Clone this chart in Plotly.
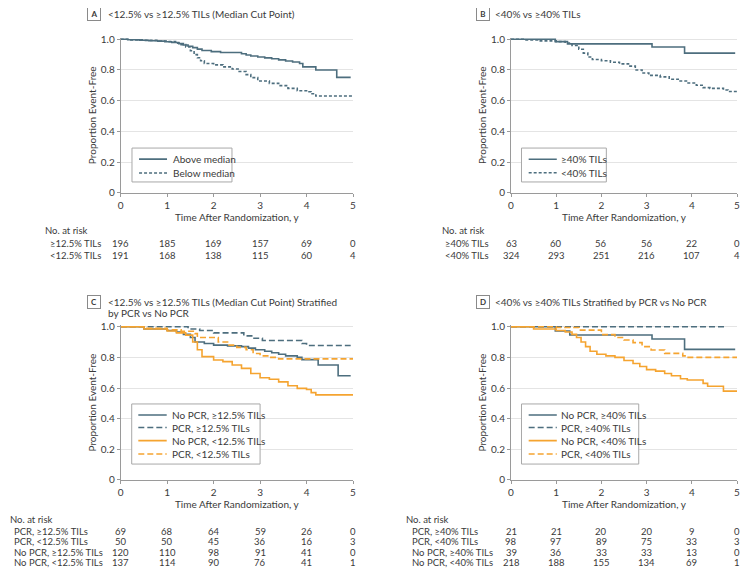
import plotly.graph_objects as go

# page body has an 8px default margin: the figure is drawn 8px in from the top-left of the window
OFF = 8
W, H = 750 - OFF, 576 - 2 * OFF

# ---------------- data ----------------
TIME_TICKS = [0, 1, 2, 3, 4, 5]
Y_TICKS = [0, 0.2, 0.4, 0.6, 0.8, 1.0]
Y_TICK_TEXT = ["0", "0.2", "0.4", "0.6", "0.8", "1.0"]
X_TITLE = "Time After Randomization, y"
Y_TITLE = "Proportion Event-Free"

# Panel A
A_LETTER = "A"
A_TITLE = "<12.5% vs ≥12.5% TILs (Median Cut Point)"
A_NAMES = ["Above median", "Below median"]
A_above_t = [0, 0.15, 0.4, 0.6, 0.8, 0.95, 1.1, 1.25, 1.35, 1.45, 1.55, 1.65, 1.75, 1.95, 2.15, 2.6, 2.7,
             2.8, 2.95, 3.1, 3.25, 3.4, 3.55, 3.7, 3.85, 3.92, 4.2, 4.65, 4.95]
A_above_s = [1.0, 0.997, 0.994, 0.991, 0.988, 0.984, 0.979, 0.972, 0.963, 0.955, 0.946, 0.936, 0.927, 0.92,
             0.914, 0.906, 0.898, 0.891, 0.885, 0.879, 0.873, 0.866, 0.859, 0.852, 0.842, 0.82, 0.80, 0.752, 0.752]
A_below_t = [0, 0.2, 0.5, 0.8, 1.0, 1.2, 1.3, 1.4, 1.5, 1.58, 1.65, 1.72, 1.8, 2.0, 2.2, 2.4, 2.55, 2.7, 2.8,
             2.95, 3.2, 3.4, 3.6, 3.8, 4.0, 4.1, 4.2, 5.0]
A_below_s = [1.0, 0.996, 0.993, 0.989, 0.985, 0.975, 0.965, 0.95, 0.925, 0.9, 0.88, 0.86, 0.842, 0.833,
             0.82, 0.806, 0.79, 0.77, 0.75, 0.728, 0.713, 0.698, 0.68, 0.665, 0.658, 0.645, 0.63, 0.63]
A_RISK_LABELS = ["≥12.5% TILs", "<12.5% TILs"]
A_RISK = [[196, 185, 169, 157, 69, 0], [191, 168, 138, 115, 60, 4]]

# Panel B
B_LETTER = "B"
B_TITLE = "<40% vs ≥40% TILs"
B_NAMES = ["≥40% TILs", "<40% TILs"]
B_hi_t = [0, 0.98, 1.25, 3.12, 3.84, 4.96]
B_hi_s = [1.0, 0.985, 0.97, 0.95, 0.91, 0.91]
B_lo_t = [0, 0.3, 0.6, 1.0, 1.2, 1.35, 1.5, 1.6, 1.7, 1.8, 2.0, 2.2, 2.4, 2.6, 2.75, 2.9, 3.05, 3.3, 3.5,
          3.7, 3.9, 4.1, 4.25, 4.4, 4.7, 4.8, 5.0]
B_lo_s = [1.0, 0.995, 0.99, 0.985, 0.975, 0.96, 0.935, 0.91, 0.885, 0.868, 0.86, 0.85, 0.84, 0.825, 0.80,
          0.78, 0.765, 0.755, 0.74, 0.728, 0.715, 0.70, 0.685, 0.68, 0.67, 0.66, 0.66]
B_RISK_LABELS = ["≥40% TILs", "<40% TILs"]
B_RISK = [[63, 60, 56, 56, 22, 0], [324, 293, 251, 216, 107, 4]]

# Panel C
C_LETTER = "C"
C_TITLE = "<12.5% vs ≥12.5% TILs (Median Cut Point) Stratified<br>by PCR vs No PCR"
C_NAMES = ["No PCR, ≥12.5% TILs", "PCR, ≥12.5% TILs", "No PCR, <12.5% TILs", "PCR, <12.5% TILs"]
C_nohi_t = [0, 0.5, 1.0, 1.2, 1.35, 1.5, 1.6, 1.8, 2.0, 2.3, 2.6, 2.75, 2.9, 3.1, 3.25, 3.4, 3.55, 3.8,
            3.9, 4.25, 4.68, 4.95]
C_nohi_s = [1.0, 0.985, 0.975, 0.965, 0.95, 0.93, 0.90, 0.89, 0.88, 0.875, 0.87, 0.86, 0.85, 0.84, 0.83,
            0.82, 0.81, 0.80, 0.785, 0.75, 0.68, 0.68]
C_pchi_t = [0, 1.45, 1.7, 2.0, 2.65, 2.85, 3.05, 3.9, 4.0, 4.95]
C_pchi_s = [1.0, 0.985, 0.975, 0.96, 0.94, 0.925, 0.91, 0.89, 0.877, 0.877]
C_nolo_t = [0, 0.5, 1.0, 1.2, 1.4, 1.55, 1.65, 1.75, 2.0, 2.2, 2.4, 2.6, 2.8, 3.0, 3.2, 3.4, 3.6, 3.8, 4.0,
            4.1, 4.2, 5.0]
C_nolo_s = [1.0, 0.985, 0.972, 0.96, 0.945, 0.90, 0.85, 0.805, 0.783, 0.772, 0.75, 0.728, 0.695, 0.667,
            0.657, 0.64, 0.615, 0.598, 0.59, 0.57, 0.555, 0.555]
C_pclo_t = [0, 0.5, 1.0, 1.3, 1.6, 1.65, 2.1, 2.3, 2.5, 2.7, 2.85, 3.0, 3.2, 3.4, 5.0]
C_pclo_s = [1.0, 0.99, 0.98, 0.97, 0.955, 0.93, 0.90, 0.88, 0.865, 0.85, 0.825, 0.81, 0.80, 0.79, 0.79]
C_RISK_LABELS = ["PCR, ≥12.5% TILs", "PCR, <12.5% TILs", "No PCR, ≥12.5% TILs", "No PCR, <12.5% TILs"]
C_RISK = [[69, 68, 64, 59, 26, 0], [50, 50, 45, 36, 16, 3], [120, 110, 98, 91, 41, 0], [137, 114, 90, 76, 41, 1]]

# Panel D
D_LETTER = "D"
D_TITLE = "<40% vs ≥40% TILs Stratified by PCR vs No PCR"
D_NAMES = ["No PCR, ≥40% TILs", "PCR, ≥40% TILs", "No PCR, <40% TILs", "PCR, <40% TILs"]
D_nohi_t = [0, 0.98, 1.3, 3.12, 3.84, 4.96]
D_nohi_s = [1.0, 0.972, 0.946, 0.92, 0.852, 0.852]
D_pchi_t = [0, 4.75]
D_pchi_s = [1.0, 1.0]
D_nolo_t = [0, 0.5, 1.0, 1.2, 1.35, 1.45, 1.55, 1.65, 1.75, 1.9, 2.1, 2.3, 2.5, 2.7, 2.85, 3.0, 3.2, 3.4,
            3.55, 3.75, 3.9, 4.25, 4.35, 4.7, 5.0]
D_nolo_s = [1.0, 0.985, 0.975, 0.965, 0.95, 0.93, 0.90, 0.87, 0.84, 0.82, 0.81, 0.80, 0.78, 0.76, 0.74,
            0.72, 0.71, 0.695, 0.68, 0.66, 0.652, 0.63, 0.612, 0.58, 0.58]
D_pclo_t = [0, 1.0, 1.5, 2.0, 2.3, 2.5, 2.7, 2.9, 3.1, 3.4, 3.8, 3.9, 5.0]
D_pclo_s = [1.0, 0.995, 0.978, 0.948, 0.93, 0.913, 0.896, 0.87, 0.848, 0.826, 0.81, 0.80, 0.80]
D_RISK_LABELS = ["PCR, ≥40% TILs", "PCR, <40% TILs", "No PCR, ≥40% TILs", "No PCR, <40% TILs"]
D_RISK = [[21, 21, 20, 20, 9, 0], [98, 97, 89, 75, 33, 3], [39, 36, 33, 33, 13, 0], [218, 188, 155, 134, 69, 1]]

# ---------------- style ----------------
TEAL = "#4d6e7e"
ORANGE = "#f5a430"
TXT = "#3a3a3a"
AXC = "#9a9a9a"
GRID = "#e4e4e4"
FONT = "Lato"
FS = 10
FS_TAB = 9.5


def px(xp):
    return (xp - OFF) / W


def py(yp):
    return 1 - (yp - OFF) / H


fig = go.Figure()

# panel geometry (pixels in the 750x576 window)
LEFT = (120.7, 353.0)
RIGHT = (511.0, 737.0)
TOP = (192.7, 39.3)     # y=0 px, y=1 px
BOT = (480.0, 326.7)
YMAX = 1.01

panels = [
    dict(ax="", xpx=LEFT, ypx=TOP),
    dict(ax="2", xpx=RIGHT, ypx=TOP),
    dict(ax="3", xpx=LEFT, ypx=BOT),
    dict(ax="4", xpx=RIGHT, ypx=BOT),
]

for p in panels:
    x0, x1 = p["xpx"]
    y0, y1 = p["ypx"]
    ytop = y0 - (y0 - y1) * YMAX
    xa = dict(domain=[px(x0), px(x1)], range=[0, 5], tickvals=TIME_TICKS, showline=True, linecolor=AXC,
              linewidth=1, ticks="outside", ticklen=3, tickcolor=AXC, showgrid=False, zeroline=False,
              tickfont=dict(size=FS, color=TXT), anchor="y" + p["ax"],
              title=dict(text=X_TITLE, font=dict(size=FS, color=TXT), standoff=1))
    ya = dict(domain=[py(y0), py(ytop)], range=[0, YMAX], tickvals=Y_TICKS, ticktext=Y_TICK_TEXT, showline=True,
              linecolor=AXC, linewidth=1, ticks="outside", ticklen=3, tickcolor=AXC, showgrid=True,
              gridcolor=GRID, gridwidth=1, zeroline=False, tickfont=dict(size=FS, color=TXT),
              anchor="x" + p["ax"],
              title=dict(text=Y_TITLE, font=dict(size=FS, color=TXT), standoff=2))
    fig.update_layout(**{"xaxis" + p["ax"]: xa, "yaxis" + p["ax"]: ya})

series = [
    ("", A_NAMES[0], A_above_t, A_above_s, TEAL, "solid"),
    ("", A_NAMES[1], A_below_t, A_below_s, TEAL, "3px,2px"),
    ("2", B_NAMES[0], B_hi_t, B_hi_s, TEAL, "solid"),
    ("2", B_NAMES[1], B_lo_t, B_lo_s, TEAL, "3px,2px"),
    ("3", C_NAMES[0], C_nohi_t, C_nohi_s, TEAL, "solid"),
    ("3", C_NAMES[1], C_pchi_t, C_pchi_s, TEAL, "6px,3px"),
    ("3", C_NAMES[2], C_nolo_t, C_nolo_s, ORANGE, "solid"),
    ("3", C_NAMES[3], C_pclo_t, C_pclo_s, ORANGE, "6px,3px"),
    ("4", D_NAMES[0], D_nohi_t, D_nohi_s, TEAL, "solid"),
    ("4", D_NAMES[1], D_pchi_t, D_pchi_s, TEAL, "6px,3px"),
    ("4", D_NAMES[2], D_nolo_t, D_nolo_s, ORANGE, "solid"),
    ("4", D_NAMES[3], D_pclo_t, D_pclo_s, ORANGE, "6px,3px"),
]
for ax, name, t, s, col, dash in series:
    fig.add_trace(go.Scatter(x=t, y=s, mode="lines", name=name, line=dict(shape="hv", color=col, width=1.6,
                                                                              dash=dash),
                             xaxis="x" + ax, yaxis="y" + ax, showlegend=False))

# ---------------- legends (in data units of each panel) ----------------
legends = [
    dict(ax="", box=(0.243, 2.395, 0.070, 0.291), sample=(0.395, 0.997), tx=1.083, ys=[0.219, 0.128],
         items=[(A_NAMES[0], TEAL, "solid"), (A_NAMES[1], TEAL, "3px,2px")]),
    dict(ax="2", box=(0.232, 2.109, 0.070, 0.291), sample=(0.391, 1.013), tx=1.062, ys=[0.218, 0.130],
         items=[(B_NAMES[0], TEAL, "solid"), (B_NAMES[1], TEAL, "3px,2px")]),
    dict(ax="3", box=(0.237, 3.0, 0.104, 0.496), sample=(0.379, 0.990), tx=1.061,
         ys=[0.424, 0.342, 0.257, 0.170],
         items=[(C_NAMES[0], TEAL, "solid"), (C_NAMES[1], TEAL, "6px,3px"), (C_NAMES[2], ORANGE, "solid"),
                (C_NAMES[3], ORANGE, "6px,3px")]),
    dict(ax="4", box=(0.232, 2.826, 0.104, 0.496), sample=(0.391, 1.013), tx=1.062,
         ys=[0.424, 0.342, 0.257, 0.170],
         items=[(D_NAMES[0], TEAL, "solid"), (D_NAMES[1], TEAL, "6px,3px"), (D_NAMES[2], ORANGE, "solid"),
                (D_NAMES[3], ORANGE, "6px,3px")]),
]
shapes = []
annotations = []
for lg in legends:
    xr, yr = "x" + lg["ax"], "y" + lg["ax"]
    bx0, bx1, by0, by1 = lg["box"]
    shapes.append(dict(type="rect", xref=xr, yref=yr, x0=bx0, x1=bx1, y0=by0, y1=by1,
                       line=dict(color="#a8a8a8", width=1), fillcolor="white", layer="above"))
    for (label, col, dash), yy in zip(lg["items"], lg["ys"]):
        shapes.append(dict(type="line", xref=xr, yref=yr, x0=lg["sample"][0], x1=lg["sample"][1], y0=yy, y1=yy,
                           line=dict(color=col, width=1.6, dash=dash), layer="above"))
        annotations.append(dict(xref=xr, yref=yr, x=lg["tx"], y=yy, text=label, showarrow=False,
                                xanchor="left", yanchor="middle", font=dict(size=FS, color=TXT)))

# ---------------- panel titles ----------------
titles = [
    (A_LETTER, A_TITLE, 94, 106, 14),
    (B_LETTER, B_TITLE, 483, 493, 14),
    (C_LETTER, C_TITLE, 94, 106, 302),
    (D_LETTER, D_TITLE, 483, 493, 302),
]
TITLE_LINE_GAP = 10.5
for letter, title, bx, tx, ty in titles:
    annotations.append(dict(xref="paper", yref="paper", x=px(bx), y=py(ty), text="<b>%s</b>" % letter,
                            showarrow=False, xanchor="center", yanchor="middle", font=dict(size=8, color=TXT),
                            bordercolor="#8a8a8a", borderwidth=1, borderpad=1.5, width=9, height=9))
    for i, line in enumerate(title.split("<br>")):
        annotations.append(dict(xref="paper", yref="paper", x=px(tx), y=py(ty + i * TITLE_LINE_GAP), text=line,
                                showarrow=False, xanchor="left", yanchor="middle", font=dict(size=FS, color=TXT)))

# ---------------- risk tables ----------------
tables = [
    ("", A_RISK_LABELS, A_RISK, 43, 48, 231, [243, 255]),
    ("2", B_RISK_LABELS, B_RISK, 440, 443, 231, [243, 255]),
    ("3", C_RISK_LABELS, C_RISK, 8, 12, 519, [531, 541.5, 552, 562.5]),
    ("4", D_RISK_LABELS, D_RISK, 404, 410, 519, [531, 541.5, 552, 562.5]),
]
for ax, labels, rows, hx, lx, hy, rys in tables:
    annotations.append(dict(xref="paper", yref="paper", x=px(hx), y=py(hy), text="No. at risk", showarrow=False,
                            xanchor="left", yanchor="middle", font=dict(size=FS_TAB, color=TXT)))
    for label, vals, ry in zip(labels, rows, rys):
        annotations.append(dict(xref="paper", yref="paper", x=px(lx), y=py(ry), text=label, showarrow=False,
                                xanchor="left", yanchor="middle", font=dict(size=FS_TAB, color=TXT)))
        for t, v in zip(TIME_TICKS, vals):
            annotations.append(dict(xref="x" + ax, yref="paper", x=t, y=py(ry), text=str(v), showarrow=False,
                                    xanchor="center", yanchor="middle", font=dict(size=FS_TAB, color=TXT)))

fig.update_layout(
    width=W, height=H, template="none",
    margin=dict(l=0, r=0, t=0, b=0),
    paper_bgcolor="white", plot_bgcolor="white",
    font=dict(family=FONT, size=FS, color=TXT),
    showlegend=False,
    shapes=shapes, annotations=annotations,
)

fig.write_html("out.html")
